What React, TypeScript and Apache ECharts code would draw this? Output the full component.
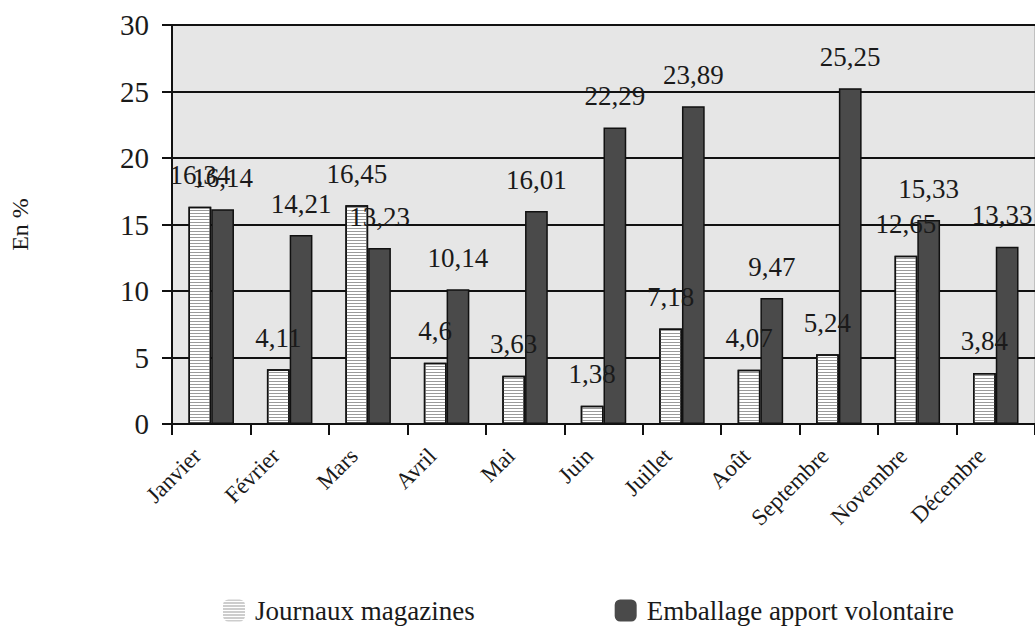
import React, { useEffect, useRef } from "react";
import * as echarts from "echarts";

const months = ["Janvier", "Février", "Mars", "Avril", "Mai", "Juin", "Juillet", "Août", "Septembre", "Novembre", "Décembre"];
const journaux = [16.34, 4.11, 16.45, 4.6, 3.63, 1.38, 7.18, 4.07, 5.24, 12.65, 3.84];
const emballage = [16.14, 14.21, 13.23, 10.14, 16.01, 22.29, 23.89, 9.47, 25.25, 15.33, 13.33];
const seriesNames = ["Journaux magazines", "Emballage apport volontaire"];

const FONT = "Liberation Serif";

export default function App() {
  const ref = useRef<HTMLDivElement>(null);
  useEffect(() => {
    if (!ref.current) return;
    const chart = echarts.init(ref.current, undefined, { renderer: "svg" });
    const fmt = (p: any) => String(p.value).replace(".", ",");
    const last = emballage.length - 1;
    const emballageData = emballage.map((v, i) =>
      i === last ? { value: v, label: { offset: [-5, 0] } } : v
    );
    chart.setOption({
      animation: false,
      backgroundColor: "#ffffff",
      textStyle: { fontFamily: FONT },
      grid: {
        left: 170,
        right: -5,
        top: 25,
        bottom: 204,
        show: true,
        backgroundColor: "#e6e6e6",
        borderColor: "#9a9a9a",
        borderWidth: 1,
      },
      legend: {
        data: seriesNames,
        left: 223,
        top: 597,
        padding: 0,
        itemWidth: 22,
        itemHeight: 22,
        itemGap: 140,
        itemStyle: { borderWidth: 0 },
        textStyle: { fontFamily: FONT, fontSize: 27, color: "#1a1a1a", padding: [0, 0, 0, 5] },
      },
      xAxis: {
        type: "category",
        data: months,
        axisLine: { show: true, lineStyle: { color: "#111", width: 2 } },
        axisTick: { show: true, alignWithLabel: false, length: 11, lineStyle: { color: "#111", width: 2 } },
        axisLabel: {
          rotate: 45,
          margin: 14,
          padding: [0, 20, 0, 0],
          fontFamily: FONT,
          fontSize: 23,
          color: "#1a1a1a",
          interval: 0,
        },
        splitLine: { show: false },
      },
      yAxis: {
        type: "value",
        min: 0,
        max: 30,
        interval: 5,
        name: "En %",
        nameLocation: "middle",
        nameRotate: 90,
        nameGap: 140,
        nameTextStyle: { fontFamily: FONT, fontSize: 24, color: "#1a1a1a" },
        axisLine: { show: true, lineStyle: { color: "#111", width: 2 } },
        axisTick: { show: true, length: 10, lineStyle: { color: "#111", width: 2 } },
        axisLabel: { fontFamily: FONT, fontSize: 29, color: "#1a1a1a", margin: 23 },
        splitLine: { show: true, lineStyle: { color: "#111", width: 2 } },
      },
      series: [
        {
          name: seriesNames[0],
          type: "bar",
          data: journaux,
          barGap: "0%",
          barCategoryGap: "42%",
          itemStyle: {
            color: "#ffffff",
            borderColor: "#111",
            borderWidth: 1.5,
            decal: {
              symbol: "rect",
              symbolSize: 1,
              dashArrayX: [[1, 0]],
              dashArrayY: [1, 2],
              color: "#9a9a9a",
              rotation: 0,
            },
          },
          label: {
            show: true,
            position: "top",
            distance: 18,
            formatter: fmt,
            fontFamily: FONT,
            fontSize: 27,
            color: "#1a1a1a",
          },
        },
        {
          name: seriesNames[1],
          type: "bar",
          data: emballageData,
          itemStyle: { color: "#4a4a4a", borderColor: "#111", borderWidth: 1.5 },
          label: {
            show: true,
            position: "top",
            distance: 18,
            formatter: fmt,
            fontFamily: FONT,
            fontSize: 27,
            color: "#1a1a1a",
          },
        },
      ],
    });
    return () => chart.dispose();
  }, []);
  return <div ref={ref} style={{ width: 1035, height: 628, position: "absolute", left: 0, top: 0 }} />;
}
